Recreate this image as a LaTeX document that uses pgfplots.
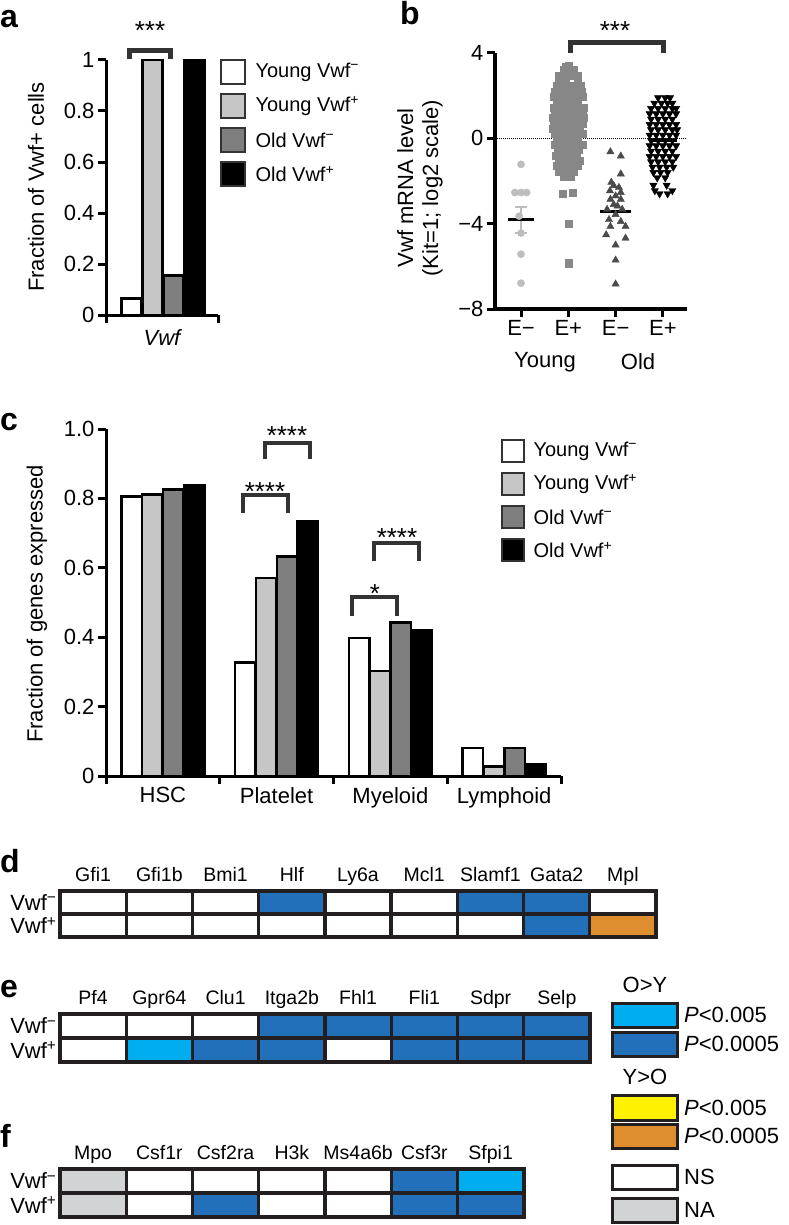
\documentclass[border=0pt]{standalone}
\usepackage{fontspec}
\setmainfont{Liberation Sans}
\usepackage{pgfplots}
\pgfplotsset{compat=1.18}
\definecolor{lgray}{HTML}{C6C6C6}
\definecolor{dgray}{HTML}{7F7F7F}
\definecolor{brk}{HTML}{333333}
\definecolor{hblue}{HTML}{2270BA}
\definecolor{hcyan}{HTML}{00AEEF}
\definecolor{horange}{HTML}{DE8E2E}
\definecolor{hyellow}{HTML}{FFF200}
\definecolor{hgray}{HTML}{D1D3D4}
\definecolor{hline}{HTML}{231F20}
\definecolor{ptA}{HTML}{BDBDBD}
\definecolor{ptB}{HTML}{878787}
\definecolor{ptC}{HTML}{4A4A4A}
\newcommand{\fs}[1]{\fontsize{#1}{#1}\selectfont}
\newcommand{\sm}{\textsuperscript{−}}
\newcommand{\spl}{\textsuperscript{+}}
\pgfplotsset{
  colormap={cats}{rgb255=(255,255,255) rgb255=(0,174,239) rgb255=(34,112,186) rgb255=(222,142,46) rgb255=(209,211,212)},
  common/.style={scale only axis, anchor=south west, clip=false,
    /pgf/number format/assume math mode=true,
    tick label style={font=\fs{22}}},
  hmap/.style={common, enlargelimits=false, axis on top,
    colormap name=cats, colormap access=direct,
    ymin=-0.5, ymax=1.5, xmin=-0.5,
    ytick={0,1}, yticklabels={Vwf\spl,Vwf\sm},
    minor ytick={0.5},
    xticklabel pos=upper,
    major tick length=0pt, minor tick length=0pt,
    grid=minor, minor grid style={line width=3.3pt, hline},
    axis line style={line width=3.5pt, hline},
    xticklabel style={font=\fs{19.5}, anchor=base, yshift=10pt},
    yticklabel style={font=\fs{22}},
  },
}
\begin{document}
\begin{tikzpicture}[font=\fs{22}]
\useasboundingbox (0,0) rectangle (788pt,-1225pt);
% ---------------- panel a ----------------
\begin{axis}[common, at={(106pt,-315pt)}, width=112pt, height=255pt,
  xmin=0, xmax=112, ymin=0, ymax=1,
  axis lines=left, axis line style={line width=3pt,-},
  xtick={0,112}, xticklabels={},
  ytick={0,0.2,0.4,0.6,0.8,1}, yticklabels={0,0.2,0.4,0.6,0.8,1},
  tick align=outside, major tick length=8pt, tick style={line width=3pt,black}]
\addplot[ybar, bar width=20pt, bar shift=0pt, fill=white, draw=black, line width=2.5pt] coordinates {(25.5,0.065)};
\addplot[ybar, bar width=20pt, bar shift=0pt, fill=lgray, draw=black, line width=2.5pt] coordinates {(46.5,1.0)};
\addplot[ybar, bar width=20pt, bar shift=0pt, fill=dgray, draw=black, line width=2.5pt] coordinates {(67.5,0.155)};
\addplot[ybar, bar width=20pt, bar shift=0pt, fill=black, draw=black, line width=2.5pt] coordinates {(88.5,1.0)};
\end{axis}
\node[rotate=90] at (36pt,-187pt) {Fraction of Vwf+ cells};
\node[font=\fs{22}\itshape] at (162pt,-338pt) {Vwf};
\draw[brk, line width=5pt] (129.5pt,-59pt) -- (129.5pt,-50.5pt) -- (170.5pt,-50.5pt) -- (170.5pt,-59pt);
\node[anchor=base, font=\fs{26}] at (150pt,-40pt) {***};
\foreach \c/\t [count=\i from 0] in {white/Young Vwf\sm, lgray/Young Vwf\spl, dgray/Old Vwf\sm, black/Old Vwf\spl}{
  \draw[brk, line width=2.5pt, fill=\c] (221pt,{-60pt-\i*34pt}) rectangle (245pt,{-84pt-\i*34pt});
  \node[anchor=west, font=\fs{20}] at (252pt,{-72pt-\i*34pt}) {\t};
}
% ---------------- panel b ----------------
\begin{axis}[common, at={(495pt,-309pt)}, width=192pt, height=256pt,
  xmin=-0.55, xmax=3.51, ymin=-8, ymax=4,
  axis lines=left, axis line style={line width=4pt,-},
  xtick={0,1,2,3}, xticklabels={E−,E+,E−,E+},
  ytick={-8,-4,0,4}, yticklabels={−8,−4,0,4},
  tick align=outside, major tick length=8pt, tick style={line width=3pt,black}]
\addplot[black, densely dotted, line width=1pt] coordinates {(-0.55,0) (3.51,0)};
% Young E-
\addplot[only marks, mark=*, mark size=3.6pt, ptA, mark options={draw=none}] table {
x y
0.00 -1.22
-0.13 -2.54
0.00 -2.54
0.12 -2.54
-0.04 -3.65
0.00 -4.44
0.00 -5.43
0.00 -6.79
};
\addplot[ptA, line width=2pt] coordinates {(0,-3.21) (0,-4.44)};
\addplot[ptA, line width=2pt] coordinates {(-0.12,-3.21) (0.12,-3.21)};
\addplot[ptA, line width=2pt] coordinates {(-0.12,-4.44) (0.12,-4.44)};
\addplot[black, line width=3pt] coordinates {(-0.28,-3.81) (0.28,-3.81)};
% Young E+
\addplot[only marks, mark=square*, mark size=3.6pt, ptB, mark options={draw=none}] table {
x y
1.00 3.40
0.95 3.35
0.90 3.20
1.05 3.20
1.12 3.20
0.80 2.95
0.90 2.95
1.00 2.95
1.10 2.95
1.20 2.95
0.80 2.70
0.95 2.70
1.20 2.70
0.75 2.45
0.88 2.45
1.00 2.45
1.12 2.45
1.25 2.45
0.72 2.20
0.85 2.20
1.02 2.20
1.15 2.20
1.28 2.20
0.70 1.95
0.82 1.95
0.95 1.95
1.08 1.95
1.20 1.95
1.30 1.95
0.75 1.70
0.90 1.70
1.05 1.70
1.20 1.70
0.70 1.45
0.83 1.45
0.97 1.45
1.10 1.45
1.22 1.45
1.32 1.45
0.72 1.20
0.88 1.20
1.03 1.20
1.18 1.20
1.30 1.20
0.68 0.95
0.80 0.95
0.93 0.95
1.07 0.95
1.20 0.95
1.32 0.95
0.70 0.70
0.85 0.70
1.00 0.70
1.15 0.70
1.30 0.70
0.68 0.45
0.82 0.45
0.95 0.45
1.10 0.45
1.24 0.45
0.72 0.20
0.88 0.20
1.03 0.20
1.18 0.20
1.30 0.20
0.75 -0.05
0.90 -0.05
1.05 -0.05
1.20 -0.05
0.72 -0.30
0.87 -0.30
1.02 -0.30
1.17 -0.30
1.30 -0.30
0.78 -0.55
0.93 -0.55
1.08 -0.55
1.22 -0.55
0.73 -0.80
0.88 -0.80
1.03 -0.80
1.18 -0.80
0.80 -1.05
0.95 -1.05
1.10 -1.05
1.24 -1.05
0.75 -1.30
0.90 -1.30
1.05 -1.30
1.20 -1.30
0.80 -1.55
0.95 -1.55
1.12 -1.55
0.90 -1.80
1.05 -1.80
0.88 -2.60
1.10 -2.55
1.00 -4.00
1.00 -5.85
};
\addplot[black, line width=3pt] coordinates {(0.65,0.67) (1.32,0.67)};
% Old E-
\addplot[only marks, mark=triangle*, mark size=4.2pt, ptC, mark options={draw=none}] table {
x y
1.89 -0.63
2.11 -0.83
2.11 -1.67
1.91 -2.06
1.96 -2.22
2.07 -2.30
1.88 -2.46
2.11 -2.54
2.00 -2.70
1.89 -2.86
2.11 -2.86
1.96 -3.10
2.04 -3.17
1.82 -3.33
2.14 -3.33
2.00 -3.57
1.86 -3.81
2.11 -3.90
1.89 -4.13
2.21 -4.13
1.80 -4.52
2.21 -4.68
2.00 -5.00
2.00 -5.71
2.00 -6.83
};
\addplot[black, line width=3pt] coordinates {(1.68,-3.41) (2.32,-3.41)};
% Old E+
\addplot[only marks, mark=triangle*, mark size=4.2pt, black, mark options={draw=none, rotate=180}] table {
x y
2.90 1.90
3.05 1.90
3.15 1.90
2.82 1.65
2.97 1.65
3.10 1.65
3.20 1.65
2.75 1.40
2.90 1.40
3.05 1.40
3.20 1.40
3.28 1.40
2.72 1.15
2.86 1.15
3.00 1.15
3.14 1.15
3.28 1.15
2.75 0.90
2.90 0.90
3.05 0.90
3.20 0.90
2.72 0.65
2.86 0.65
3.00 0.65
3.14 0.65
3.28 0.65
2.75 0.40
2.90 0.40
3.05 0.40
3.20 0.40
3.30 0.40
2.72 0.15
2.86 0.15
3.00 0.15
3.14 0.15
3.28 0.15
2.75 -0.10
2.90 -0.10
3.05 -0.10
3.20 -0.10
2.72 -0.35
2.86 -0.35
3.00 -0.35
3.14 -0.35
3.28 -0.35
2.75 -0.60
2.90 -0.60
3.05 -0.60
3.20 -0.60
2.72 -0.85
2.86 -0.85
3.00 -0.85
3.14 -0.85
3.28 -0.85
2.75 -1.10
2.90 -1.10
3.05 -1.10
3.20 -1.10
2.78 -1.35
2.93 -1.35
3.08 -1.35
3.22 -1.35
2.80 -1.60
2.95 -1.60
3.10 -1.60
2.88 -1.85
3.05 -1.85
2.80 -2.20
3.08 -2.20
2.83 -2.45
3.20 -2.45
2.93 -2.60
3.10 -2.60
};
\addplot[black, line width=3pt] coordinates {(2.7,-0.1) (3.3,-0.1)};
\end{axis}
\node[rotate=90, align=center, font=\fs{22}, inner sep=0] at (420pt,-188pt) {Vwf mRNA level\\[3pt](Kit=1; log2 scale)};
\node at (545pt,-362pt) {Young};
\node at (638pt,-362pt) {Old};
\draw[brk, line width=5pt] (570pt,-53pt) -- (570pt,-42.5pt) -- (663pt,-42.5pt) -- (663pt,-53pt);
\node[anchor=base, font=\fs{26}] at (615pt,-40pt) {***};
% ---------------- panel c ----------------
\begin{axis}[common, at={(106pt,-776pt)}, width=455pt, height=347pt,
  xmin=-0.5, xmax=3.5, ymin=0, ymax=1,
  axis lines=left, axis line style={line width=3pt,-},
  xtick={0,1,2,3}, xticklabels={HSC,Platelet,Myeloid,Lymphoid},
  major x tick style={draw=none},
  minor xtick={-0.5,0.5,1.5,2.5,3.5},
  ytick={0,0.2,0.4,0.6,0.8,1}, yticklabels={0,0.2,0.4,0.6,0.8,1.0},
  tick align=outside, major tick length=8pt, minor tick length=8pt,
  tick style={line width=3pt,black}]
\addplot[ybar, bar width=20.5pt, bar shift=-31.2pt, fill=white, draw=black, line width=2.5pt] coordinates {(0,0.806) (1,0.327) (2,0.397) (3,0.080)};
\addplot[ybar, bar width=20.5pt, bar shift=-10.4pt, fill=lgray, draw=black, line width=2.5pt] coordinates {(0,0.811) (1,0.570) (2,0.303) (3,0.027)};
\addplot[ybar, bar width=20.5pt, bar shift=10.4pt, fill=dgray, draw=black, line width=2.5pt] coordinates {(0,0.825) (1,0.633) (2,0.442) (3,0.080)};
\addplot[ybar, bar width=20.5pt, bar shift=31.2pt, fill=black, draw=black, line width=2.5pt] coordinates {(0,0.837) (1,0.733) (2,0.421) (3,0.034)};
\end{axis}
\node[rotate=90] at (37pt,-604pt) {Fraction of genes expressed};
\foreach \xa/\xb/\yt/\yl/\sx/\sy/\st in {243/288/495/513/265/500/****, 265/310/443/459/287/444/****, 352/397/597/616/375/602/*, 374/419/543/561/397/546/****}{
  \draw[brk, line width=4pt] (\xa pt,-\yl pt) -- (\xa pt,-\yt pt) -- (\xb pt,-\yt pt) -- (\xb pt,-\yl pt);
  \node[anchor=base, font=\fs{26}] at (\sx pt,-\sy pt) {\st};
}
\foreach \c/\t [count=\i from 0] in {white/Young Vwf\sm, lgray/Young Vwf\spl, dgray/Old Vwf\sm, black/Old Vwf\spl}{
  \draw[brk, line width=2.5pt, fill=\c] (502pt,{-440pt-\i*33pt}) rectangle (524pt,{-462pt-\i*33pt});
  \node[anchor=west, font=\fs{20}] at (530pt,{-451pt-\i*33pt}) {\t};
}
% ---------------- panel d ----------------
\begin{axis}[hmap, at={(60pt,-937pt)}, width=596pt, height=46pt, xmax=8.5,
  xtick={0,...,8}, xticklabels={Gfi1,Gfi1b,Bmi1,Hlf,Ly6a,Mcl1,Slamf1,Gata2,Mpl},
  minor xtick={0.5,1.5,2.5,3.5,4.5,5.5,6.5,7.5}]
\addplot[matrix plot*, mesh/cols=9, point meta=explicit] table[meta=c] {
x y c
0 0 0
1 0 0
2 0 0
3 0 0
4 0 0
5 0 0
6 0 0
7 0 2
8 0 3
0 1 0
1 1 0
2 1 0
3 1 2
4 1 0
5 1 0
6 1 2
7 1 2
8 1 0
};
\end{axis}
% ---------------- panel e ----------------
\begin{axis}[hmap, at={(60pt,-1062pt)}, width=530pt, height=48pt, xmax=7.5,
  xtick={0,...,7}, xticklabels={Pf4,Gpr64,Clu1,Itga2b,Fhl1,Fli1,Sdpr,Selp},
  minor xtick={0.5,1.5,2.5,3.5,4.5,5.5,6.5}]
\addplot[matrix plot*, mesh/cols=8, point meta=explicit] table[meta=c] {
x y c
0 0 0
1 0 1
2 0 2
3 0 2
4 0 0
5 0 2
6 0 2
7 0 2
0 1 0
1 1 0
2 1 0
3 1 2
4 1 2
5 1 2
6 1 2
7 1 2
};
\end{axis}
% ---------------- panel f ----------------
\begin{axis}[hmap, at={(60pt,-1217pt)}, width=463.75pt, height=48pt, xmax=6.5,
  xtick={0,...,6}, xticklabels={Mpo,Csf1r,Csf2ra,H3k,Ms4a6b,Csf3r,Sfpi1},
  minor xtick={0.5,1.5,2.5,3.5,4.5,5.5}]
\addplot[matrix plot*, mesh/cols=7, point meta=explicit] table[meta=c] {
x y c
0 0 4
1 0 0
2 0 2
3 0 0
4 0 0
5 0 2
6 0 2
0 1 4
1 1 0
2 1 0
3 1 0
4 1 0
5 1 2
6 1 1
};
\end{axis}
% ---------------- legend d-f ----------------
\node at (645pt,-985pt) {O>Y};
\node at (645pt,-1077pt) {Y>O};
\foreach \c/\ya/\yb/\t in {hcyan/1003/1027/{{\itshape P}<0.005}, hblue/1032/1056/{{\itshape P}<0.0005}, hyellow/1095/1120/{{\itshape P}<0.005}, horange/1124/1148/{{\itshape P}<0.0005}, white/1165/1189/NS, hgray/1198/1222/NA}{
  \draw[hline, line width=3pt, fill=\c] (612pt,-\ya pt) rectangle (677pt,-\yb pt);
  \node[anchor=west, inner sep=0] at (684pt,{-(\ya+\yb)/2*1pt}) {\t};
}
% ---------------- panel letters ----------------
\foreach \l/\x/\y in {a/0/28, b/400/25, c/0/430, d/0/872, e/0/997, f/0/1147}{
  \node[anchor=base west, inner sep=0, font=\fs{32}\bfseries] at (\x pt,-\y pt) {\l};
}
\end{tikzpicture}
\end{document}
